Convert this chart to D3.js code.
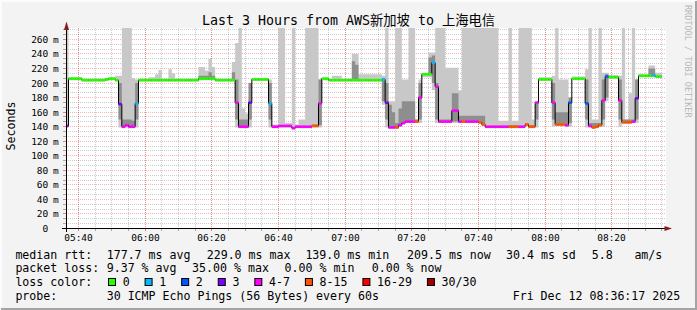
<!DOCTYPE html>
<html lang="en">
<head>
<meta charset="utf-8">
<title>SmokePing</title>
<script src="https://cdn.jsdelivr.net/npm/d3@7"></script>
<style>
html, body { margin: 0; padding: 0; background: #f3f3f3; overflow: hidden; }
svg { display: block; }
text { font-family: "DejaVu Sans Mono", "Noto Sans CJK SC", monospace; white-space: pre; fill: #000; }
</style>
</head>
<body>
<div id="chart"></div>
<script>

// ---- data (one sample per minute, last sample ends 08:35) ----
var medianMs = [
141,206,206,206,206,204,204,204,204,204,
204,204,205,206,206,204,171,140,142,140,
140,172,204,204,204,204,204,204,204,204,
204,204,204,204,204,204,204,204,204,204,
206,206,206,206,206,204,204,204,204,204,
204,173,140,140,140,173,205,205,205,205,
205,172,140,140,141,141,141,141,138,140,
140,140,140,140,141,141,172,206,206,204,
204,204,204,204,204,204,204,204,204,204,
204,204,204,204,204,205,173,139,139,139,
142,145,147,147,147,147,180,212,212,212,
228,195,147,147,147,147,162,162,147,147,
147,147,147,147,146,143,140,140,140,140,
140,140,140,140,140,140,140,140,143,140,
140,173,205,205,205,205,173,143,143,143,
142,173,206,206,206,206,172,141,139,140,
142,176,209,208,208,208,176,146,146,146,
147,179,210,210,210,210,211,209,209];

// lost pings out of 30
var lossCount = [
3,0,0,0,0,0,0,0,0,0,
0,0,0,0,0,0,3,5,5,5,
5,1,0,0,0,0,0,0,0,0,
0,0,0,0,0,0,0,0,0,0,
0,0,0,0,0,0,0,0,0,0,
0,5,5,5,5,3,0,0,0,0,
0,1,5,5,5,5,5,5,5,5,
5,5,5,5,10,10,5,0,0,0,
0,0,0,0,0,0,0,0,0,0,
0,0,0,0,0,1,3,5,5,10,
5,5,5,5,5,10,5,0,0,0,
1,5,5,5,5,5,5,5,5,10,
5,5,5,5,10,10,5,5,5,5,
5,5,5,10,10,10,5,5,10,10,
10,5,0,0,0,0,5,10,10,10,
5,2,0,0,0,0,2,5,10,10,
10,5,2,0,0,0,5,10,10,10,
5,3,0,0,0,0,1,0,0];

// smoke: fastest / slowest ping
var smokeMin = [
139,204,204,204,204,202,202,202,202,202,
202,202,203,204,204,202,139,138,139,138,
138,139,202,202,202,202,202,202,202,202,
202,202,202,202,202,202,202,202,202,202,
204,204,204,204,204,202,202,202,202,202,
202,139,138,138,138,139,203,203,203,203,
203,139,138,138,139,139,139,139,136,138,
138,138,138,138,139,139,139,204,204,202,
202,202,202,202,202,202,202,202,202,202,
202,202,202,202,202,170,139,137,137,137,
140,143,145,145,145,145,145,208,208,208,
190,145,145,145,145,145,145,145,145,145,
145,145,145,145,144,141,138,138,138,138,
138,138,138,138,138,138,138,138,141,138,
138,139,203,203,203,203,140,141,141,141,
140,140,204,204,204,204,139,139,137,138,
140,140,175,206,206,206,140,144,144,144,
145,145,208,208,208,208,208,207,207];

var smokeMax = [
300,208,208,208,208,206,206,206,206,206,
206,206,207,208,208,210,210,300,300,300,
207,205,206,206,206,208,208,212,218,206,
206,219,213,206,206,206,206,206,206,206,
222,222,217,233,222,206,206,206,206,206,
229,255,300,165,158,178,207,207,207,207,
207,205,143,143,300,300,145,145,300,143,
150,150,300,300,300,300,205,208,208,206,
210,210,210,206,206,206,240,240,212,212,
212,212,212,212,212,210,300,175,175,300,
300,205,205,300,300,150,205,214,214,242,
242,300,300,300,221,221,221,221,190,300,
300,300,300,300,300,300,300,300,300,300,
148,148,148,300,148,148,300,300,300,300,
150,175,208,208,208,208,210,300,205,205,
205,175,209,209,209,209,219,300,150,150,
300,214,214,211,211,211,210,300,150,186,
300,205,212,212,212,224,224,214,214];

// smoke: dense middle of the ping distribution
var coreLo = [
140,205,205,205,205,203,203,203,203,203,
203,203,204,205,205,203,150,139,141,139,
139,150,203,203,203,203,203,203,203,203,
203,203,203,203,203,203,203,203,203,203,
205,205,205,205,205,203,203,203,203,203,
203,150,139,139,139,150,204,204,204,204,
204,150,139,139,140,140,140,140,137,139,
139,139,139,139,140,140,142,205,205,203,
203,203,203,203,203,203,203,203,203,203,
203,203,203,203,203,175,150,138,138,138,
141,144,146,146,146,146,150,211,211,212,
200,150,146,146,146,146,147,147,146,146,
146,146,146,146,145,142,139,139,139,139,
139,139,139,139,139,139,139,139,142,139,
139,150,204,204,204,204,150,142,142,142,
141,145,205,205,205,205,150,140,138,139,
141,150,180,207,207,207,150,145,145,145,
146,150,209,209,209,209,209,208,208];

var coreHi = [
142,207,207,207,207,205,205,205,205,205,
205,205,206,207,207,205,200,150,150,150,
148,200,205,205,205,205,205,205,205,205,
205,205,205,205,205,205,205,205,205,205,
210,210,210,215,210,205,205,205,205,205,
215,205,150,150,150,200,206,206,206,206,
206,200,141,141,142,142,142,142,139,141,
141,141,141,141,143,143,205,207,207,205,
205,205,205,205,205,205,230,225,205,205,
205,205,205,205,205,206,200,170,160,145,
165,175,175,175,175,150,200,213,213,235,
238,200,150,150,150,150,186,186,155,155,
155,155,155,155,155,155,141,141,141,141,
141,141,141,142,142,142,141,141,145,142,
142,173,206,206,206,206,200,160,160,160,
160,180,207,207,207,207,205,145,145,145,
145,205,212,209,209,209,205,150,150,150,
150,205,211,211,211,220,220,210,210];

var lossLabels = ["0", "1", "2", "3", "4-7", "8-15", "16-29", "30/30"];
var lossColors = ["#26ff00", "#00b8ff", "#0059ff", "#7e00ff", "#ff00ff", "#ff5500", "#ff0000", "#a10000"];

var yTicks = [0, 20, 40, 60, 80, 100, 120, 140, 160, 180, 200, 220, 240, 260];

var titleText = "Last 3 Hours from AWS新加坡 to 上海电信";
var rttStats = ["177.7 ms avg", "229.0 ms max", "139.0 ms min", "209.5 ms now", "30.4 ms sd", "5.8", "am/s"];
var lossStats = ["9.37 % avg", "35.00 % max", "0.00 % min", "0.00 % now"];
var probeText = "30 ICMP Echo Pings (56 Bytes) every 60s";
var stampText = "Fri Dec 12 08:36:17 2025";

// ---- layout ----
var W = 697, H = 310;
var x0 = 66.1, x1 = 666.1;
var yTop = 28.5, yBot = 228.5;

var tStart = new Date(2025, 11, 12, 5, 36, 17);
var tEnd = new Date(2025, 11, 12, 8, 36, 17);
var firstEnd = new Date(2025, 11, 12, 5, 37, 0);
var stepSec = 60;
var n = medianMs.length;

var xScale = d3.scaleTime().domain([tStart, tEnd]).range([x0, x1]);
var yScale = d3.scaleLinear().domain([0, 275]).range([yBot, yTop]);

function sampleStart(k) { return new Date(firstEnd.getTime() + (k - 1) * stepSec * 1000); }
function px(k) { return xScale(sampleStart(k)); }
function val(arr, k) { return arr[Math.min(k, n - 1)]; }
function crisp(v) { return Math.floor(v) + 0.5; }

function lossBucket(c) {
	if (c <= 3) return c;
	if (c <= 7) return 4;
	if (c <= 15) return 5;
	if (c <= 29) return 6;
	return 7;
}

var svg = d3.select("#chart").append("svg")
	.attr("width", W)
	.attr("height", H);

// canvas + frame
svg.append("rect").attr("width", W).attr("height", H).attr("fill", "#f3f3f3");
svg.append("path").attr("d", "M1,309V1H696").attr("fill", "none").attr("stroke", "#fcfcfc").attr("stroke-width", 2);
svg.append("path").attr("d", "M1,309H696V1").attr("fill", "none").attr("stroke", "#a4a4a4").attr("stroke-width", 2);

// plot background
svg.append("rect")
	.attr("x", 66).attr("y", 28)
	.attr("width", 600).attr("height", 200)
	.attr("fill", "#ffffff");

// grid
var grid = svg.append("g");
var minorTimes = d3.timeMinute.every(5).range(tStart, tEnd);
var majorTimes = d3.timeMinute.every(20).range(tStart, tEnd);
var minorVals = d3.range(0, 275, 20 / 3).filter(function(v) { return Math.abs(v / 20 - Math.round(v / 20)) > 0.01; });
var majorVals = yTicks.filter(function(v) { return v > 0; });
var minorCol = "rgba(0,0,0,0.2)", majorCol = "rgba(255,0,0,0.3)";

grid.selectAll("line.vmin").data(minorTimes).enter().append("line")
	.attr("x1", function(d) { return crisp(xScale(d)); })
	.attr("x2", function(d) { return crisp(xScale(d)); })
	.attr("y1", 28).attr("y2", 228)
	.attr("stroke", minorCol).attr("stroke-dasharray", "1,1");
grid.selectAll("line.hmin").data(minorVals).enter().append("line")
	.attr("x1", 66).attr("x2", 666)
	.attr("y1", function(d) { return crisp(yScale(d)); })
	.attr("y2", function(d) { return crisp(yScale(d)); })
	.attr("stroke", minorCol).attr("stroke-dasharray", "1,1");
grid.selectAll("line.vmaj").data(majorTimes).enter().append("line")
	.attr("x1", function(d) { return crisp(xScale(d)); })
	.attr("x2", function(d) { return crisp(xScale(d)); })
	.attr("y1", 28).attr("y2", 228)
	.attr("stroke", majorCol).attr("stroke-dasharray", "1,1");
grid.selectAll("line.hmaj").data(majorVals).enter().append("line")
	.attr("x1", 66).attr("x2", 666)
	.attr("y1", function(d) { return crisp(yScale(d)); })
	.attr("y2", function(d) { return crisp(yScale(d)); })
	.attr("stroke", majorCol).attr("stroke-dasharray", "1,1");

// clip to plot
svg.append("clipPath").attr("id", "clip")
	.append("rect").attr("x", 66.5).attr("y", 28).attr("width", 600).attr("height", 200.5);
var plot = svg.append("g").attr("clip-path", "url(#clip)");

var steps = d3.range(n + 1);

// smoke
var outerArea = d3.area().curve(d3.curveStepAfter)
	.x(px)
	.y0(function(k) { return yScale(val(smokeMin, k)); })
	.y1(function(k) { return yScale(Math.min(val(smokeMax, k), 290)); });
var innerArea = d3.area().curve(d3.curveStepAfter)
	.x(px)
	.y0(function(k) { return yScale(val(coreLo, k)); })
	.y1(function(k) { return yScale(val(coreHi, k)); });

plot.append("path").datum(steps).attr("d", outerArea).attr("fill", "#c8c8c8");
plot.append("path").datum(steps).attr("d", innerArea).attr("fill", "#8e8e8e");

// median step line
var medLine = d3.line().curve(d3.curveStepAfter)
	.x(px)
	.y(function(k) { return yScale(val(medianMs, k)); });
plot.append("path").datum(steps).attr("d", medLine)
	.attr("fill", "none").attr("stroke", "#000").attr("stroke-width", 1);

// median coloured by loss
plot.selectAll("rect.med").data(d3.range(n)).enter().append("rect")
	.attr("x", function(k) { return px(k); })
	.attr("width", function(k) { return px(k + 1) - px(k); })
	.attr("y", function(k) { return yScale(medianMs[k]) - 1.3; })
	.attr("height", 2.6)
	.attr("fill", function(k) { return lossColors[lossBucket(lossCount[k])]; });

// axes
var axes = svg.append("g");
axes.selectAll("line.xt").data(minorTimes).enter().append("line")
	.attr("x1", function(d) { return crisp(xScale(d)); })
	.attr("x2", function(d) { return crisp(xScale(d)); })
	.attr("y1", 229).attr("y2", 231)
	.attr("stroke", function(d) { return d.getMinutes() % 20 == 0 ? "rgba(255,0,0,0.5)" : "rgba(0,0,0,0.3)"; });
axes.selectAll("line.yt").data(yTicks.concat(minorVals)).enter().append("line")
	.attr("x1", 63).attr("x2", 66)
	.attr("y1", function(d) { return crisp(yScale(d)); })
	.attr("y2", function(d) { return crisp(yScale(d)); })
	.attr("stroke", function(d) { return d % 20 == 0 ? "rgba(255,0,0,0.5)" : "rgba(0,0,0,0.3)"; });

axes.append("line").attr("x1", 62).attr("x2", 668).attr("y1", 228.5).attr("y2", 228.5).attr("stroke", "#000");
axes.append("line").attr("x1", 66.5).attr("x2", 66.5).attr("y1", 232).attr("y2", 26).attr("stroke", "#000");
axes.append("path").attr("d", "M664.5,226L672,228.5L664.5,231Z").attr("fill", "#8b1a1a");
axes.append("path").attr("d", "M64,30L66.5,21.5L69,30Z").attr("fill", "#8b1a1a");

// tick labels
var lab = svg.append("g").style("font-size", "9.5px");
lab.selectAll("text.xl").data(majorTimes).enter().append("text")
	.attr("x", function(d) { return crisp(xScale(d)); })
	.attr("y", 241)
	.attr("text-anchor", "middle")
	.text(d3.timeFormat("%H:%M"));
lab.selectAll("text.yl").data(yTicks).enter().append("text")
	.attr("x", 48.3)
	.attr("y", function(d) { return crisp(yScale(d)) + 3.3; })
	.attr("text-anchor", "end")
	.text(function(d) { return d; });
lab.selectAll("text.yu").data(majorVals).enter().append("text")
	.attr("x", 53)
	.attr("y", function(d) { return crisp(yScale(d)) + 3.3; })
	.text("m");

// title + y label + watermark
svg.append("text").attr("x", 348.5).attr("y", 25)
	.attr("text-anchor", "middle").style("font-size", "13.3px")
	.text(titleText);
svg.append("text").attr("transform", "translate(15,126) rotate(-90)")
	.attr("text-anchor", "middle").style("font-size", "11.6px")
	.text("Seconds");
svg.append("text").attr("transform", "translate(684.5,5) rotate(90)")
	.style("font-size", "8.5px").style("fill", "#b8b8b8")
	.text("RRDTOOL / TOBI OETIKER");

// legend
var leg = svg.append("g").style("font-size", "11.6px");
var rowY = [258.5, 272.3, 286.1, 299.9];
var rttX = [106.7, 206.7, 305.4, 407, 506, 591.7, 634.4];
var lossX = [106.7, 192.1, 284.6, 371.7];

leg.append("text").attr("x", 15.4).attr("y", rowY[0]).text("median rtt:");
rttStats.forEach(function(s, i) {
	leg.append("text").attr("x", rttX[i]).attr("y", rowY[0]).text(s);
});
leg.append("text").attr("x", 15.4).attr("y", rowY[1]).text("packet loss:");
lossStats.forEach(function(s, i) {
	leg.append("text").attr("x", lossX[i]).attr("y", rowY[1]).text(s);
});
leg.append("text").attr("x", 15.4).attr("y", rowY[2]).text("loss color:");
var bx = 108.5;
lossLabels.forEach(function(s, i) {
	leg.append("rect").attr("x", bx).attr("y", 278.5).attr("width", 7).attr("height", 7)
		.attr("fill", lossColors[i]).attr("stroke", "#000").attr("stroke-width", 1);
	var t = leg.append("text").attr("x", bx + 14.2).attr("y", rowY[2]).text(s);
	bx = bx + 14.2 + t.node().getComputedTextLength() + 15.4;
});
leg.append("text").attr("x", 15.4).attr("y", rowY[3]).text("probe:");
leg.append("text").attr("x", 106.7).attr("y", rowY[3]).text(probeText);
leg.append("text").attr("x", 512.7).attr("y", rowY[3]).text(stampText);

</script>
</body>
</html>
